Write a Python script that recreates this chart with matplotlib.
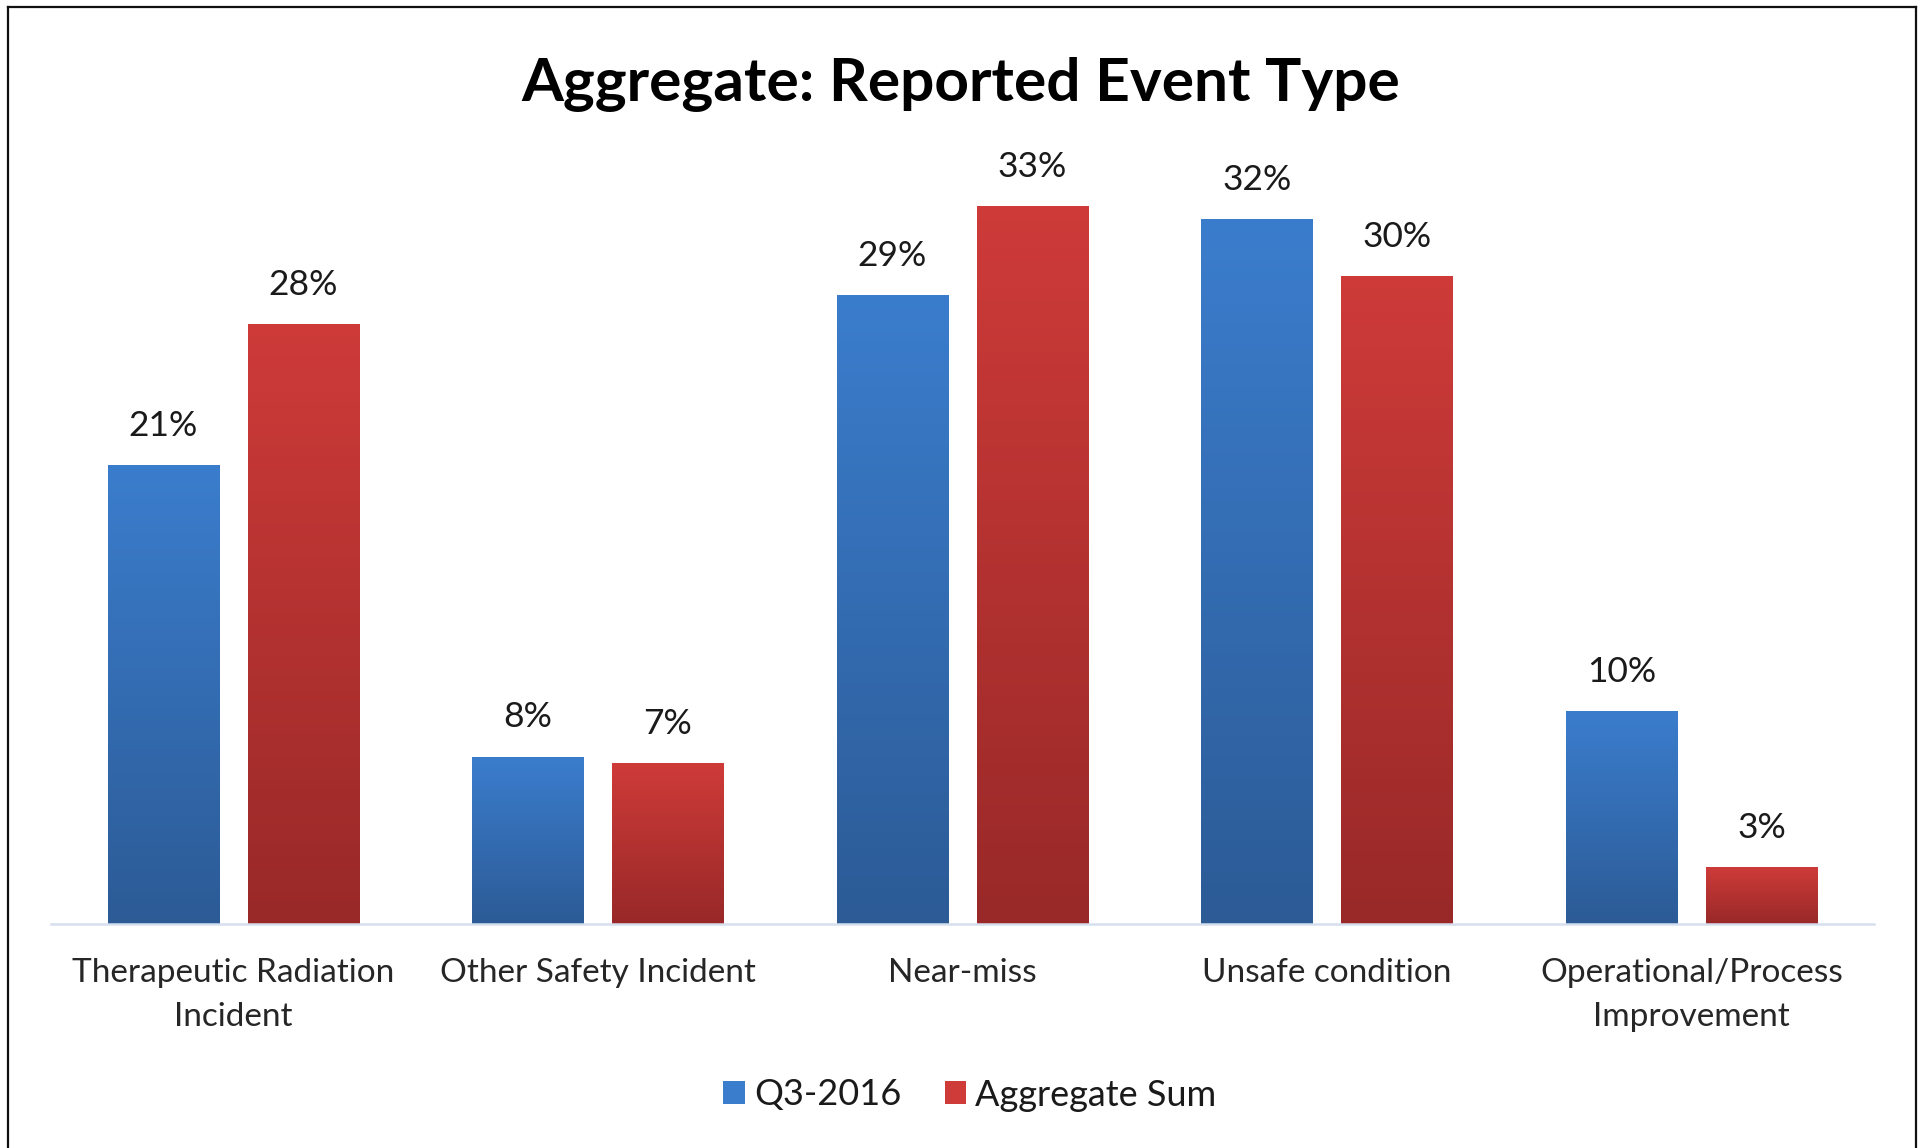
import numpy as np
import matplotlib
matplotlib.use('Agg')
import matplotlib.pyplot as plt
from matplotlib.colors import LinearSegmentedColormap
from matplotlib.lines import Line2D

categories = ['Therapeutic Radiation\nIncident', 'Other Safety Incident', 'Near-miss',
              'Unsafe condition', 'Operational/Process\nImprovement']
q3_2016 = [21.1, 7.7, 28.9, 32.4, 9.8]
aggregate_sum = [27.6, 7.4, 33.0, 29.8, 2.6]
series_names = ['Q3-2016', 'Aggregate Sum']

BLUE_TOP, BLUE_BOT = '#3B7DCD', '#2C5B96'
RED_TOP, RED_BOT = '#CE3B39', '#982928'

plt.rcParams['font.family'] = ['Lato', 'DejaVu Sans']

fig = plt.figure(figsize=(19.25, 11.48), dpi=100)
ax = fig.add_axes([51 / 1925, 224 / 1148, 1823 / 1925, 783 / 1148])


def gradient_fill(ax, patch, top, bottom):
    x0, y0 = patch.get_x(), patch.get_y()
    w, h = patch.get_width(), patch.get_height()
    cmap = LinearSegmentedColormap.from_list('grad', [bottom, top])
    grad = np.linspace(0, 1, 256).reshape(-1, 1)
    im = ax.imshow(grad, extent=(x0, x0 + w, y0, y0 + h), origin='lower',
                   cmap=cmap, aspect='auto', zorder=2, interpolation='bilinear')
    im.set_clip_path(patch)
    patch.set_facecolor('none')


x = np.arange(len(categories))
off, width = 0.192, 0.306
bars_b = ax.bar(x - off, q3_2016, width, color=BLUE_TOP, linewidth=0, zorder=2)
bars_r = ax.bar(x + off, aggregate_sum, width, color=RED_TOP, linewidth=0, zorder=2)

for p in bars_b:
    gradient_fill(ax, p, BLUE_TOP, BLUE_BOT)
for p in bars_r:
    gradient_fill(ax, p, RED_TOP, RED_BOT)

for bars, vals in [(bars_b, q3_2016), (bars_r, aggregate_sum)]:
    for p, v in zip(bars, vals):
        ax.annotate(f'{v:.0f}%', (p.get_x() + p.get_width() / 2, v),
                    xytext=(0, 21), textcoords='offset points',
                    ha='center', va='baseline', fontsize=25.5, color='#1a1a1a')

ax.set_xlim(-0.5, 4.5)
ax.set_ylim(0, 36)
ax.set_xticks(x)
ax.set_xticklabels(categories, fontsize=24, color='#262626', linespacing=1.6)
ax.tick_params(axis='x', length=0, pad=24.5)
ax.set_yticks([])
for s in ['top', 'left', 'right']:
    ax.spines[s].set_visible(False)
ax.spines['bottom'].set_color('#D6DFEE')
ax.spines['bottom'].set_linewidth(1.8)

fig.text(961 / 1925, 1 - 101 / 1148, 'Aggregate: Reported Event Type',
         ha='center', va='baseline', fontsize=43.5, fontweight='bold', color='black')

handles = [plt.Rectangle((0, 0), 1, 1, facecolor=BLUE_TOP, edgecolor='none'),
           plt.Rectangle((0, 0), 1, 1, facecolor=RED_TOP, edgecolor='none')]
fig.legend(handles, series_names, loc='center', ncol=2, frameon=False,
           bbox_to_anchor=(970 / 1925, 1 - 1095 / 1148), fontsize=26,
           handlelength=0.6, handleheight=0.6, handletextpad=0.25, columnspacing=1.2,
           labelcolor='#1a1a1a')

# outer frame (left, top, right)
fx0, fx1, fy = 8 / 1925, 1916 / 1925, 1 - 7 / 1148
for xs, ys in [([fx0, fx0], [0, fy]), ([fx0, fx1], [fy, fy]), ([fx1, fx1], [fy, 0])]:
    fig.add_artist(Line2D(xs, ys, transform=fig.transFigure, color='#111111', linewidth=1.6))

fig.savefig('out.png', dpi=100)
